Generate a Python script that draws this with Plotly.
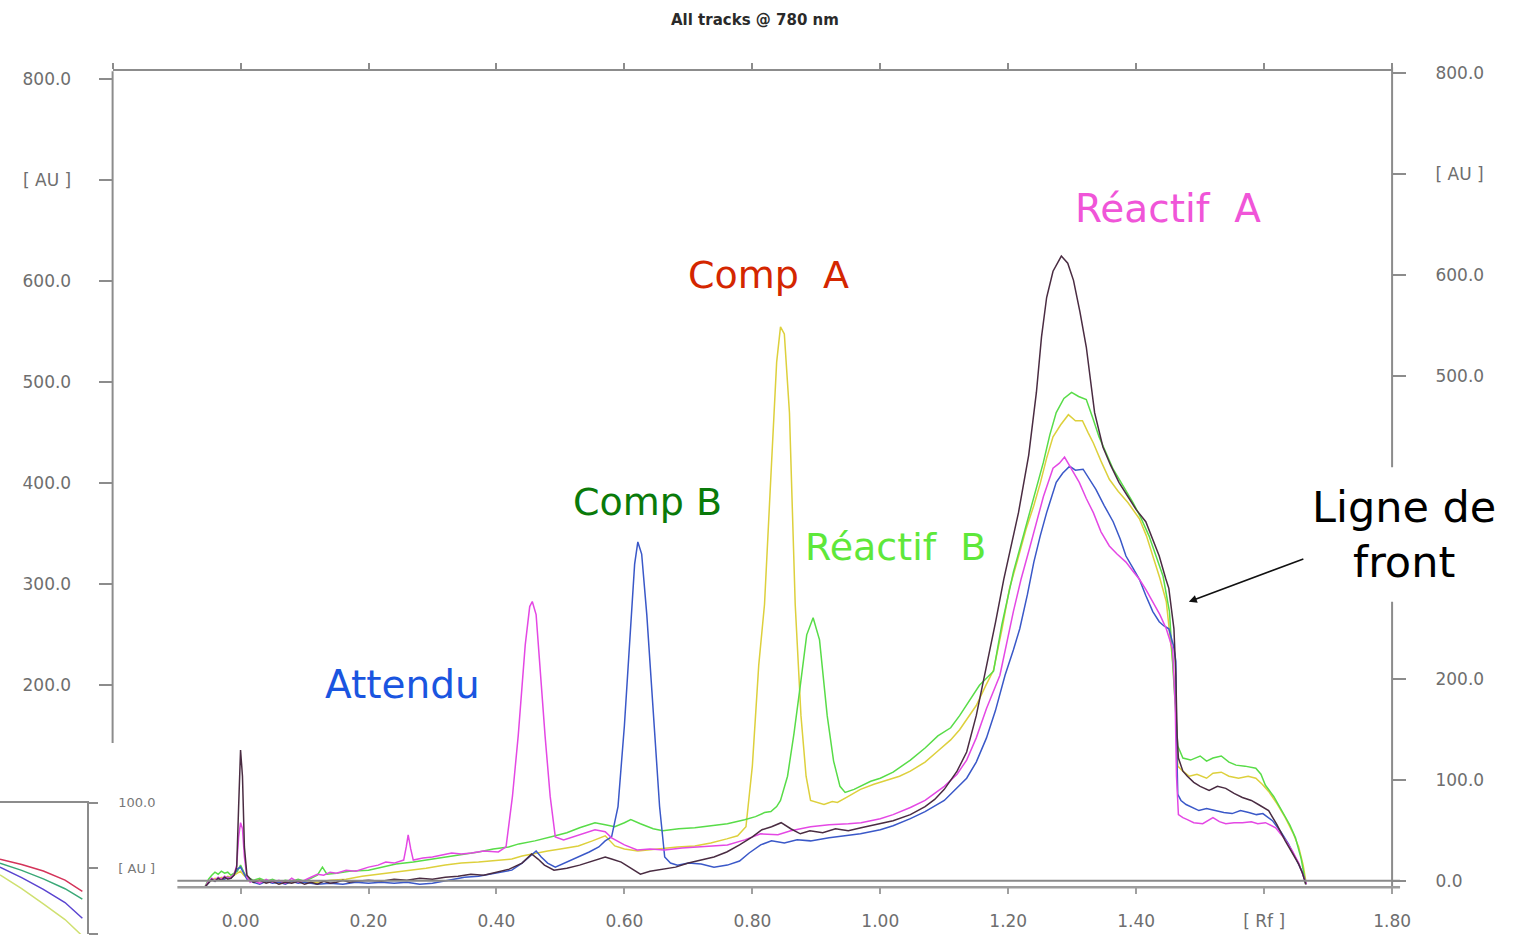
import plotly.graph_objects as go

W, H = 1522, 938
# the page is photographed slightly reduced; these factors map reference pixels to layout pixels
KX, KY, OY = 0.991, 0.992, 6.4

def PX(x):
    return (x / KX) / W

def PY(y):
    return max(0.0, 1 - ((y - OY) / KY) / H)

# ---------------- data ----------------
black_rf = [-0.056, -0.050, -0.045, -0.040, -0.035, -0.030, -0.025, -0.020, -0.015, -0.010, -0.006, -0.003, 0.000, 0.003, 0.006, 0.010,
            0.015, 0.020, 0.030, 0.040, 0.050, 0.060, 0.070, 0.080, 0.090, 0.100, 0.110, 0.120, 0.130, 0.140, 0.150, 0.160, 0.170,
            0.180, 0.200, 0.220, 0.240, 0.260, 0.280, 0.300, 0.320, 0.340, 0.360, 0.380, 0.400, 0.420, 0.440, 0.455, 0.465, 0.475,
            0.490, 0.510, 0.530, 0.550, 0.570, 0.580, 0.595, 0.610, 0.625, 0.640, 0.660, 0.680, 0.700, 0.720, 0.740, 0.760, 0.780,
            0.800, 0.815, 0.830, 0.845, 0.860, 0.875, 0.890, 0.910, 0.930, 0.950, 0.970, 1.000, 1.020, 1.047, 1.070, 1.085, 1.100,
            1.120, 1.135, 1.150, 1.166, 1.180, 1.193, 1.205, 1.216, 1.232, 1.244, 1.252, 1.260, 1.270, 1.283, 1.293, 1.302, 1.312,
            1.322, 1.335, 1.348, 1.360, 1.373, 1.387, 1.400, 1.415, 1.426, 1.436, 1.446, 1.451, 1.459, 1.462, 1.464, 1.466, 1.473,
            1.480, 1.490, 1.500, 1.514, 1.527, 1.540, 1.553, 1.566, 1.580, 1.591, 1.607, 1.620, 1.633, 1.645, 1.654, 1.660, 1.665]
black_au = [0, 5, 8, 6, 9, 7, 10, 8, 9, 12, 20, 80, 136, 110, 40, 12,
            8, 5, 7, 4, 6, 3, 5, 4, 6, 3, 5, 3, 6, 4, 5, 7, 5,
            6, 7, 6, 8, 7, 9, 8, 10, 11, 13, 12, 15, 18, 24, 33, 28, 22,
            17, 19, 22, 26, 30, 28, 25, 19, 13, 16, 18, 20, 24, 27, 30, 35, 42,
            50, 57, 60, 64, 58, 53, 56, 54, 58, 56, 59, 63, 66, 72, 80, 87, 97,
            115, 134, 170, 218, 262, 305, 340, 371, 428, 490, 545, 584, 610, 625, 618, 601, 570,
            535, 470, 436, 418, 401, 387, 374, 362, 345, 328, 306, 296, 256, 210, 150, 128, 115,
            110, 104, 100, 96, 100, 98, 93, 89, 86, 82, 76, 62, 46, 33, 23, 14, 3]

magenta_rf = [-0.056, -0.050, -0.045, -0.040, -0.035, -0.030, -0.025, -0.020, -0.015, -0.010, -0.006, -0.003, 0.000, 0.003, 0.006,
              0.010, 0.015, 0.020, 0.030, 0.040, 0.050, 0.060, 0.070, 0.080, 0.090, 0.100, 0.110, 0.120, 0.130, 0.140, 0.150, 0.165,
              0.180, 0.200, 0.215, 0.227, 0.240, 0.255, 0.259, 0.262, 0.266, 0.270, 0.285, 0.300, 0.315, 0.330, 0.345, 0.361, 0.380,
              0.403, 0.415, 0.425, 0.434, 0.445, 0.452, 0.456, 0.462, 0.470, 0.476, 0.484, 0.492, 0.505, 0.520, 0.535, 0.554, 0.570,
              0.580, 0.600, 0.620, 0.640, 0.663, 0.690, 0.710, 0.735, 0.761, 0.788, 0.813, 0.840, 0.860, 0.891, 0.920, 0.950, 0.970,
              1.000, 1.020, 1.047, 1.070, 1.100, 1.120, 1.135, 1.150, 1.166, 1.187, 1.208, 1.220, 1.233, 1.245, 1.255, 1.270, 1.280,
              1.288, 1.295, 1.303, 1.311, 1.322, 1.333, 1.345, 1.358, 1.370, 1.384, 1.395, 1.405, 1.415, 1.426, 1.437, 1.447, 1.457,
              1.461, 1.463, 1.466, 1.473, 1.480, 1.490, 1.504, 1.512, 1.520, 1.530, 1.540, 1.553, 1.566, 1.580, 1.590, 1.602, 1.618,
              1.632, 1.644, 1.654, 1.662, 1.666]
magenta_au = [0, 6, 9, 7, 10, 8, 11, 9, 10, 13, 22, 50, 64, 58, 30,
              10, 5, 7, 4, 8, 5, 7, 4, 9, 5, 7, 10, 13, 12, 15, 14, 17,
              16, 20, 22, 25, 24, 27, 40, 52, 38, 27, 29, 30, 32, 34, 33, 34, 36,
              35, 40, 90, 150, 240, 278, 283, 270, 200, 150, 90, 50, 47, 50, 53, 57, 55,
              49, 42, 37, 38, 37, 39, 40, 41, 42, 47, 53, 52, 56, 60, 62, 63, 64,
              68, 72, 79, 86, 100, 112, 126, 148, 177, 210, 273, 305, 335, 365, 387, 415, 420,
              426, 418, 410, 401, 385, 371, 352, 338, 330, 322, 313, 305, 295, 283, 270, 256, 236,
              180, 110, 72, 69, 67, 64, 63, 66, 69, 65, 63, 64, 64, 65, 63, 64, 59,
              48, 36, 24, 10, 3]

blue_rf = [-0.056, -0.050, -0.045, -0.040, -0.035, -0.030, -0.025, -0.020, -0.015, -0.010, -0.005, 0.000, 0.005, 0.010, 0.020,
           0.030, 0.040, 0.050, 0.060, 0.070, 0.080, 0.090, 0.100, 0.120, 0.140, 0.160, 0.180, 0.200, 0.220, 0.240, 0.260, 0.280,
           0.300, 0.315, 0.330, 0.350, 0.372, 0.390, 0.410, 0.424, 0.440, 0.455, 0.462, 0.470, 0.480, 0.492, 0.510, 0.528, 0.545,
           0.560, 0.570, 0.580, 0.590, 0.600, 0.610, 0.616, 0.621, 0.627, 0.635, 0.645, 0.655, 0.663, 0.672, 0.683, 0.700, 0.720,
           0.740, 0.761, 0.780, 0.795, 0.813, 0.830, 0.850, 0.870, 0.891, 0.920, 0.950, 0.969, 1.000, 1.020, 1.047, 1.070, 1.100,
           1.120, 1.135, 1.150, 1.166, 1.180, 1.195, 1.208, 1.218, 1.230, 1.240, 1.250, 1.260, 1.275, 1.285, 1.296, 1.305, 1.317,
           1.327, 1.337, 1.350, 1.364, 1.375, 1.384, 1.395, 1.405, 1.415, 1.426, 1.436, 1.443, 1.451, 1.458, 1.462, 1.463, 1.465,
           1.470, 1.478, 1.488, 1.498, 1.510, 1.524, 1.537, 1.550, 1.563, 1.576, 1.588, 1.598, 1.613, 1.626, 1.638, 1.650, 1.659,
           1.666]
blue_au = [0, 5, 8, 6, 9, 7, 8, 10, 9, 13, 18, 20, 14, 8, 5,
           3, 6, 4, 5, 3, 6, 4, 5, 3, 4, 3, 5, 4, 5, 4, 5, 3,
           4, 6, 8, 10, 11, 13, 15, 17, 24, 32, 36, 30, 24, 20, 25, 30, 35,
           40, 46, 50, 80, 160, 260, 320, 342, 330, 270, 170, 80, 30, 24, 22, 24, 23,
           20, 22, 26, 34, 42, 46, 44, 47, 46, 49, 51, 53, 57, 61, 68, 75, 86,
           98, 108, 124, 148, 175, 210, 235, 256, 290, 322, 348, 371, 401, 410, 417, 413, 414,
           404, 394, 378, 362, 345, 328, 316, 305, 289, 273, 263, 259, 256, 240, 224, 150, 92,
           86, 82, 79, 76, 78, 76, 74, 73, 76, 74, 72, 73, 66, 55, 43, 28, 16,
           3]

yellow_rf = [-0.056, -0.050, -0.045, -0.040, -0.035, -0.030, -0.025, -0.020, -0.015, -0.010, -0.005, 0.000, 0.005, 0.010, 0.020,
             0.030, 0.040, 0.050, 0.060, 0.070, 0.080, 0.090, 0.100, 0.120, 0.140, 0.165, 0.190, 0.216, 0.240, 0.262, 0.290, 0.320,
             0.345, 0.372, 0.400, 0.424, 0.440, 0.462, 0.480, 0.500, 0.528, 0.550, 0.570, 0.585, 0.600, 0.621, 0.650, 0.683, 0.710,
             0.735, 0.760, 0.777, 0.790, 0.800, 0.810, 0.819, 0.830, 0.838, 0.844, 0.850, 0.858, 0.867, 0.876, 0.884, 0.891, 0.900,
             0.912, 0.925, 0.933, 0.950, 0.969, 0.990, 1.010, 1.030, 1.047, 1.070, 1.090, 1.110, 1.124, 1.140, 1.150, 1.165, 1.177,
             1.190, 1.202, 1.215, 1.228, 1.240, 1.250, 1.260, 1.270, 1.282, 1.294, 1.305, 1.316, 1.325, 1.333, 1.345, 1.358, 1.372,
             1.387, 1.405, 1.416, 1.426, 1.437, 1.447, 1.457, 1.462, 1.465, 1.473, 1.483, 1.495, 1.510, 1.520, 1.533, 1.545, 1.560,
             1.575, 1.587, 1.597, 1.607, 1.620, 1.633, 1.645, 1.654, 1.661, 1.666]
yellow_au = [0, 5, 7, 9, 8, 10, 9, 11, 10, 12, 14, 16, 12, 9, 6,
             8, 5, 7, 4, 6, 5, 7, 5, 5, 7, 8, 11, 13, 15, 17, 19, 22,
             24, 25, 27, 28, 31, 34, 36, 38, 41, 46, 51, 41, 38, 36, 38, 40, 41,
             44, 48, 51, 60, 120, 220, 280, 420, 520, 555, 548, 470, 280, 170, 110, 86, 84,
             82, 85, 84, 90, 97, 102, 106, 110, 115, 124, 135, 146, 156, 170, 180, 200, 215,
             255, 296, 325, 355, 378, 400, 425, 446, 458, 468, 462, 462, 450, 440, 422, 404, 392,
             381, 365, 348, 328, 306, 283, 224, 180, 120, 115, 110, 112, 108, 113, 114, 110, 108,
             110, 108, 102, 95, 83, 69, 54, 40, 22, 3]

green_rf = [-0.056, -0.050, -0.045, -0.040, -0.035, -0.030, -0.025, -0.020, -0.015, -0.010, -0.005, 0.000, 0.005, 0.010, 0.020,
            0.030, 0.040, 0.050, 0.060, 0.070, 0.080, 0.090, 0.100, 0.110, 0.120, 0.128, 0.135, 0.150, 0.170, 0.200, 0.220, 0.243,
            0.270, 0.300, 0.320, 0.336, 0.355, 0.372, 0.395, 0.419, 0.435, 0.460, 0.492, 0.510, 0.530, 0.554, 0.570, 0.585, 0.600,
            0.610, 0.625, 0.645, 0.660, 0.685, 0.710, 0.735, 0.761, 0.788, 0.805, 0.819, 0.829, 0.838, 0.844, 0.855, 0.865, 0.875,
            0.885, 0.895, 0.905, 0.917, 0.927, 0.937, 0.945, 0.959, 0.969, 0.985, 1.000, 1.020, 1.047, 1.070, 1.090, 1.110, 1.124,
            1.140, 1.155, 1.177, 1.190, 1.208, 1.220, 1.233, 1.244, 1.255, 1.265, 1.275, 1.287, 1.299, 1.310, 1.322, 1.332, 1.342,
            1.353, 1.364, 1.380, 1.395, 1.408, 1.420, 1.431, 1.442, 1.452, 1.457, 1.462, 1.465, 1.473, 1.485, 1.500, 1.510, 1.520,
            1.533, 1.545, 1.556, 1.570, 1.587, 1.595, 1.602, 1.615, 1.628, 1.640, 1.649, 1.658, 1.665]
green_au = [0, 8, 12, 15, 13, 16, 14, 15, 12, 14, 16, 22, 15, 10, 7,
            9, 6, 8, 5, 7, 6, 8, 6, 9, 12, 20, 13, 14, 16, 17, 20, 23,
            25, 28, 30, 31, 33, 35, 38, 40, 43, 46, 51, 54, 59, 64, 62, 60, 64,
            67, 63, 58, 56, 58, 59, 61, 63, 67, 70, 74, 75, 80, 86, 110, 152, 200,
            250, 267, 245, 170, 125, 100, 94, 97, 100, 105, 108, 114, 126, 138, 150, 158, 170,
            185, 200, 214, 260, 312, 340, 371, 396, 421, 448, 470, 484, 490, 486, 483, 465, 446,
            430, 414, 397, 381, 365, 348, 328, 308, 273, 224, 180, 140, 128, 126, 130, 125, 128,
            130, 124, 121, 120, 118, 112, 101, 90, 76, 62, 49, 28, 3]

# small cut-off inset chart (bottom-left corner)
inset_x = [0.0, 0.25, 0.5, 0.75, 0.95]
inset_red = [91.4, 90.6, 89.6, 88.2, 86.5]
inset_green = [90.8, 89.7, 88.4, 86.9, 85.3]
inset_blue = [90.2, 88.6, 86.8, 84.8, 82.4]
inset_yellow = [89.0, 86.9, 84.6, 82.2, 79.7]

x_ticks = [0.0, 0.2, 0.4, 0.6, 0.8, 1.0, 1.2, 1.4, 1.6, 1.8]
x_ticktext = ["0.00", "0.20", "0.40", "0.60", "0.80", "1.00", "1.20", "1.40", "[ Rf ]", "1.80"]
top_ticks = [-0.2, 0.0, 0.2, 0.4, 0.6, 0.8, 1.0, 1.2, 1.4, 1.6, 1.8]
left_ticks = [200, 300, 400, 500, 600, 700, 800]
left_ticktext = ["200.0", "300.0", "400.0", "500.0", "600.0", "[ AU ]", "800.0"]
right_ticks = [0, 100, 200, 500, 600, 700, 800]
right_ticktext = ["0.0", "100.0", "200.0", "500.0", "600.0", "[ AU ]", "800.0"]

# ---------------- figure ----------------
fig = go.Figure()

series = [
    (yellow_rf, yellow_au, "#ddd03c"),
    (green_rf, green_au, "#58dc48"),
    (blue_rf, blue_au, "#3a58c8"),
    (magenta_rf, magenta_au, "#e448e4"),
    (black_rf, black_au, "#4a2c42"),
]
for xs, ys, col in series:
    fig.add_trace(go.Scatter(x=xs, y=ys, mode="lines", line=dict(color=col, width=1.5),
                             xaxis="x", yaxis="y", showlegend=False, hoverinfo="skip"))

# invisible anchors so that the top and right axes get drawn
fig.add_trace(go.Scatter(x=[-0.2], y=[0], mode="lines", line=dict(width=0), xaxis="x2", yaxis="y",
                         showlegend=False, hoverinfo="skip"))
fig.add_trace(go.Scatter(x=[-0.2], y=[0], mode="lines", line=dict(width=0), xaxis="x", yaxis="y2",
                         showlegend=False, hoverinfo="skip"))

for ys, col in [(inset_yellow, "#cfe070"), (inset_blue, "#5a44d0"), (inset_green, "#3aa877"), (inset_red, "#d4345a")]:
    fig.add_trace(go.Scatter(x=inset_x, y=ys, mode="lines", line=dict(color=col, width=1.5),
                             xaxis="x3", yaxis="y3", showlegend=False, hoverinfo="skip"))

tickfont = dict(family="DejaVu Sans, Verdana, sans-serif", size=17, color="#6e6e6e")
axcol = "#8c8c8c"

fig.update_layout(
    width=W, height=H,
    margin=dict(l=0, r=0, t=0, b=0),
    paper_bgcolor="white", plot_bgcolor="white",
    showlegend=False,
    xaxis=dict(domain=[PX(113), PX(1397)], range=[-0.2, 1.8], anchor="y",
               tickvals=x_ticks, ticktext=x_ticktext, ticks="outside", ticklen=6, tickwidth=1.5,
               tickcolor="#a0a0a0", showline=False, showgrid=False, zeroline=False,
               tickfont=tickfont, ticklabelstandoff=12),
    xaxis2=dict(domain=[PX(113), PX(1397)], range=[-0.2, 1.8], overlaying="x", side="top", anchor="y",
                tickvals=top_ticks, ticks="outside", ticklen=6, tickwidth=2, tickcolor=axcol,
                showticklabels=False, showline=True, linecolor=axcol, linewidth=2,
                showgrid=False, zeroline=False),
    yaxis=dict(domain=[PY(890), PY(70)], range=[0, 808], anchor="x",
               tickvals=left_ticks, ticktext=left_ticktext, ticks="outside", ticklen=13, tickwidth=2,
               tickcolor=axcol, showline=False, showgrid=False, zeroline=False,
               tickfont=tickfont, ticklabelstandoff=24),
    yaxis2=dict(domain=[PY(890), PY(70)], range=[-5.9, 802], overlaying="y", side="right", anchor="x",
                tickvals=right_ticks, ticktext=right_ticktext, ticks="outside", ticklen=13, tickwidth=2,
                tickcolor=axcol, showline=False, showgrid=False, zeroline=False,
                tickfont=tickfont, ticklabelstandoff=26),
    xaxis3=dict(domain=[0, PX(87)], range=[0, 1], anchor="y3", side="top",
                showline=True, linecolor=axcol, linewidth=2, showticklabels=False, ticks="",
                showgrid=False, zeroline=False),
    yaxis3=dict(domain=[PY(938), PY(805)], range=[80, 100], anchor="x3", side="right",
                tickvals=[80, 90, 100], ticktext=["80.0", "[ AU ]", "100.0"],
                ticks="outside", ticklen=9, tickwidth=2, tickcolor=axcol,
                showline=True, linecolor=axcol, linewidth=2, showgrid=False, zeroline=False,
                tickfont=dict(family="DejaVu Sans, Verdana, sans-serif", size=13, color="#777777"),
                ticklabelstandoff=18),
)

shapes = [
    # left axis line (stops where the inset begins)
    dict(type="line", xref="paper", yref="paper", x0=PX(113), x1=PX(113), y0=PY(70), y1=PY(745),
         line=dict(color=axcol, width=2)),
    # right axis line, interrupted behind the "Ligne de front" text
    dict(type="line", xref="paper", yref="paper", x0=PX(1397), x1=PX(1397), y0=PY(66), y1=PY(468),
         line=dict(color=axcol, width=2)),
    dict(type="line", xref="paper", yref="paper", x0=PX(1397), x1=PX(1397), y0=PY(603), y1=PY(890),
         line=dict(color=axcol, width=2)),
    # double bottom baseline
    dict(type="line", xref="paper", yref="paper", x0=PX(178), x1=PX(1405), y0=PY(883.5), y1=PY(883.5),
         line=dict(color="#8a8a8a", width=2)),
    dict(type="line", xref="paper", yref="paper", x0=PX(178), x1=PX(1405), y0=PY(890), y1=PY(890),
         line=dict(color="#9c9c9c", width=2.5)),
]
fig.update_layout(shapes=shapes)

label_font = "DejaVu Sans, Verdana, sans-serif"
labels = [
    ("Réactif  A", 1172, 208, "#f055d8", 39),
    ("Comp  A", 771, 275, "#d42600", 38),
    ("Comp B", 650, 503, "#0a7a0a", 38),
    ("Réactif  B", 899, 548, "#5ee83a", 38),
    ("Attendu", 404, 686, "#1a55e0", 39),
    ("Ligne de", 1409, 508, "#000000", 43),
    ("front", 1409, 563, "#000000", 43),
]
ann = []
for txt, x, y, col, sz in labels:
    ann.append(dict(text=txt, x=PX(x), y=PY(y), xref="paper", yref="paper", xanchor="center", yanchor="middle",
                    showarrow=False, font=dict(family=label_font, size=sz, color=col)))
ann.append(dict(text="<b>All tracks @ 780 nm</b>", x=PX(758), y=PY(18), xref="paper", yref="paper",
                xanchor="center", yanchor="middle", showarrow=False,
                font=dict(family="DejaVu Sans, Verdana, sans-serif", size=15, color="#2a2a2a")))
ann.append(dict(text="", x=PX(1193), y=PY(603), xref="paper", yref="paper", showarrow=True,
                ax=115 / KX, ay=-43 / KY, arrowhead=2, arrowsize=1, arrowwidth=1.6, arrowcolor="#111111", standoff=0))
fig.update_layout(annotations=ann)

fig.write_html("out.html")
